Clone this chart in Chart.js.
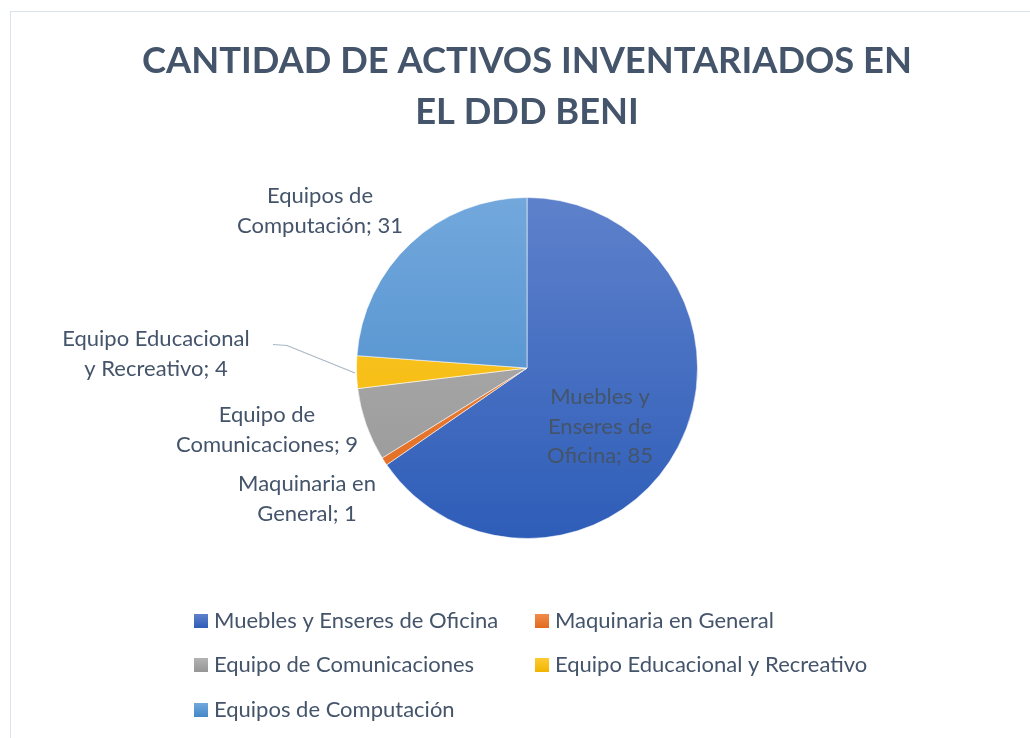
<!DOCTYPE html>
<html>
<head>
<meta charset="utf-8">
<script src="https://cdn.jsdelivr.net/npm/chart.js@4"></script>
<style>
  html, body { margin: 0; padding: 0; background: #fff; }
  #wrap { width: 1030px; height: 738px; position: relative; }
</style>
</head>
<body>
<div id="wrap"><canvas id="mainChart" width="1030" height="738"></canvas></div>
<script>
// chart data
var titleLines = ["CANTIDAD DE ACTIVOS INVENTARIADOS EN", "EL DDD BENI"]
var categories = ["Muebles y Enseres de Oficina", "Maquinaria en General", "Equipo de Comunicaciones", "Equipo Educacional y Recreativo", "Equipos de Computación"]
var values = [85, 1, 9, 4, 31]
// label lines as wrapped in the picture
var labelLines = [
    ["Muebles y", "Enseres de", "Oficina; 85"],
    ["Maquinaria en", "General; 1"],
    ["Equipo de", "Comunicaciones; 9"],
    ["Equipo Educacional", "y Recreativo; 4"],
    ["Equipos de", "Computación; 31"]
]

// gradient colours, top -> bottom
var colorTop = ["#5E81CB", "#F28B4A", "#B3B3B3", "#FFCB33", "#72A8DC"]
var colorBottom = ["#2E5DB8", "#E06A1E", "#969696", "#F0B400", "#4487C8"]

var textColor = "#44546A"
var fontName = "Lato, 'Open Sans', sans-serif"

function sliceFill(context) {
    var chart = context.chart
    var i = context.dataIndex
    var area = chart.chartArea
    if (!area) return colorTop[i]
    var g = chart.ctx.createLinearGradient(0, area.top, 0, area.bottom)
    g.addColorStop(0, colorTop[i])
    g.addColorStop(1, colorBottom[i])
    return g
}

// label positions (centre x, centre y of first line), per slice
var labelPos = [[600, 397], [307, 484], [267, 415], [156, 339], [320, 196]]
var lineGap = 29.5

var decorPlugin = {
    id: "decor",
    beforeDraw: function (chart) {
        var ctx = chart.ctx
        ctx.save()
        ctx.fillStyle = "#fff"
        ctx.fillRect(0, 0, chart.width, chart.height)
        ctx.strokeStyle = "#DCE2EA"
        ctx.lineWidth = 1
        ctx.strokeRect(10.5, 11.5, 1100, 800)

        // title
        ctx.fillStyle = textColor
        ctx.textAlign = "center"
        ctx.textBaseline = "alphabetic"
        ctx.font = "bold 40px " + fontName
        var w = ctx.measureText(titleLines[0]).width
        var size = Math.min(40, 40 * 770 / w)
        ctx.font = "bold " + size + "px " + fontName
        ctx.fillText(titleLines[0], 527, 73)
        ctx.fillText(titleLines[1], 527, 124)
        ctx.restore()
    },
    afterDraw: function (chart) {
        var ctx = chart.ctx
        ctx.save()
        // leader line for the small yellow slice
        ctx.strokeStyle = "#A9B6C6"
        ctx.lineWidth = 1.2
        ctx.beginPath()
        ctx.moveTo(273, 344.5)
        ctx.lineTo(287, 345.5)
        ctx.lineTo(355, 373)
        ctx.stroke()

        ctx.fillStyle = textColor
        ctx.textAlign = "center"
        ctx.textBaseline = "middle"
        ctx.font = "22px " + fontName
        for (var i = 0; i < labelLines.length; i++) {
            for (var j = 0; j < labelLines[i].length; j++) {
                ctx.fillText(labelLines[i][j], labelPos[i][0], labelPos[i][1] + j * lineGap)
            }
        }

        // legend
        var legendPos = [[194, 621], [535, 621], [194, 665], [535, 665], [194, 710]]
        ctx.textAlign = "left"
        ctx.font = "22px " + fontName
        for (var k = 0; k < categories.length; k++) {
            var x = legendPos[k][0], y = legendPos[k][1]
            var g = ctx.createLinearGradient(0, y - 7, 0, y + 7)
            g.addColorStop(0, colorTop[k])
            g.addColorStop(1, colorBottom[k])
            ctx.fillStyle = g
            ctx.fillRect(x, y - 7, 14, 14)
            ctx.fillStyle = textColor
            ctx.fillText(categories[k], x + 20, y)
        }
        ctx.restore()
    }
}

window.onload = function () {
    var ctx = document.getElementById('mainChart').getContext('2d')
    var mainChart = new Chart(ctx, {
        type: 'pie',
        data: {
            labels: categories,
            datasets: [{
                data: values,
                backgroundColor: sliceFill,
                borderColor: 'rgba(255,255,255,0.55)',
                borderWidth: 1
            }]
        },
        options: {
            responsive: false,
            animation: false,
            layout: {
                padding: { left: 356, right: 332, top: 197, bottom: 199 }
            },
            plugins: {
                legend: { display: false },
                title: { display: false },
                tooltip: { enabled: false }
            }
        },
        plugins: [decorPlugin]
    })
}
</script>
</body>
</html>
